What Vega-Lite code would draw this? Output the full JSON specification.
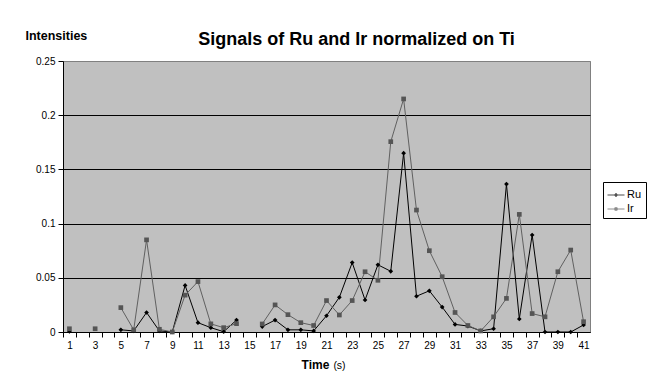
{
  "$schema": "https://vega.github.io/schema/vega-lite/v6.json",
  "width": 527,
  "height": 271,
  "autosize": "none",
  "padding": {"left": 63, "top": 61, "right": 64, "bottom": 54},
  "background": "white",
  "title": {
    "text": "Signals of Ru and Ir normalized on Ti",
    "font": "Liberation Sans",
    "fontSize": 18,
    "fontWeight": "bold",
    "color": "black",
    "anchor": "middle",
    "dx": 30,
    "baseline": "alphabetic",
    "offset": -34
  },
  "config": {
    "view": {"fill": "#C0C0C0", "stroke": "#808080"},
    "font": "Liberation Sans"
  },
  "data": {
    "values": [
      {"t": 1, "series": "Ru", "v": 0.0005}, {"t": 2, "series": "Ru", "v": null}, {"t": 3, "series": "Ru", "v": null}, {"t": 4, "series": "Ru", "v": null},
      {"t": 5, "series": "Ru", "v": 0.002}, {"t": 6, "series": "Ru", "v": 0.001}, {"t": 7, "series": "Ru", "v": 0.018}, {"t": 8, "series": "Ru", "v": 0.001},
      {"t": 9, "series": "Ru", "v": 0.0}, {"t": 10, "series": "Ru", "v": 0.043}, {"t": 11, "series": "Ru", "v": 0.0086}, {"t": 12, "series": "Ru", "v": 0.004},
      {"t": 13, "series": "Ru", "v": 0.0003}, {"t": 14, "series": "Ru", "v": 0.011}, {"t": 15, "series": "Ru", "v": null}, {"t": 16, "series": "Ru", "v": 0.005},
      {"t": 17, "series": "Ru", "v": 0.011}, {"t": 18, "series": "Ru", "v": 0.002}, {"t": 19, "series": "Ru", "v": 0.002}, {"t": 20, "series": "Ru", "v": 0.001},
      {"t": 21, "series": "Ru", "v": 0.015}, {"t": 22, "series": "Ru", "v": 0.032}, {"t": 23, "series": "Ru", "v": 0.064}, {"t": 24, "series": "Ru", "v": 0.0295},
      {"t": 25, "series": "Ru", "v": 0.062}, {"t": 26, "series": "Ru", "v": 0.056}, {"t": 27, "series": "Ru", "v": 0.165}, {"t": 28, "series": "Ru", "v": 0.033},
      {"t": 29, "series": "Ru", "v": 0.038}, {"t": 30, "series": "Ru", "v": 0.023}, {"t": 31, "series": "Ru", "v": 0.007}, {"t": 32, "series": "Ru", "v": 0.0055},
      {"t": 33, "series": "Ru", "v": 0.001}, {"t": 34, "series": "Ru", "v": 0.003}, {"t": 35, "series": "Ru", "v": 0.1365}, {"t": 36, "series": "Ru", "v": 0.012},
      {"t": 37, "series": "Ru", "v": 0.0895}, {"t": 38, "series": "Ru", "v": 0.0}, {"t": 39, "series": "Ru", "v": 0.0}, {"t": 40, "series": "Ru", "v": 0.0},
      {"t": 41, "series": "Ru", "v": 0.0065},
      {"t": 1, "series": "Ir", "v": 0.003}, {"t": 2, "series": "Ir", "v": null}, {"t": 3, "series": "Ir", "v": 0.003}, {"t": 4, "series": "Ir", "v": null},
      {"t": 5, "series": "Ir", "v": 0.0225}, {"t": 6, "series": "Ir", "v": 0.002}, {"t": 7, "series": "Ir", "v": 0.085}, {"t": 8, "series": "Ir", "v": 0.0025},
      {"t": 9, "series": "Ir", "v": 0.0}, {"t": 10, "series": "Ir", "v": 0.034}, {"t": 11, "series": "Ir", "v": 0.0465}, {"t": 12, "series": "Ir", "v": 0.0075},
      {"t": 13, "series": "Ir", "v": 0.004}, {"t": 14, "series": "Ir", "v": 0.0077}, {"t": 15, "series": "Ir", "v": null}, {"t": 16, "series": "Ir", "v": 0.0074},
      {"t": 17, "series": "Ir", "v": 0.025}, {"t": 18, "series": "Ir", "v": 0.016}, {"t": 19, "series": "Ir", "v": 0.0086}, {"t": 20, "series": "Ir", "v": 0.006},
      {"t": 21, "series": "Ir", "v": 0.029}, {"t": 22, "series": "Ir", "v": 0.0157}, {"t": 23, "series": "Ir", "v": 0.029}, {"t": 24, "series": "Ir", "v": 0.0556},
      {"t": 25, "series": "Ir", "v": 0.0477}, {"t": 26, "series": "Ir", "v": 0.1756}, {"t": 27, "series": "Ir", "v": 0.215}, {"t": 28, "series": "Ir", "v": 0.1125},
      {"t": 29, "series": "Ir", "v": 0.075}, {"t": 30, "series": "Ir", "v": 0.051}, {"t": 31, "series": "Ir", "v": 0.018}, {"t": 32, "series": "Ir", "v": 0.006},
      {"t": 33, "series": "Ir", "v": 0.001}, {"t": 34, "series": "Ir", "v": 0.014}, {"t": 35, "series": "Ir", "v": 0.031}, {"t": 36, "series": "Ir", "v": 0.1085},
      {"t": 37, "series": "Ir", "v": 0.017}, {"t": 38, "series": "Ir", "v": 0.014}, {"t": 39, "series": "Ir", "v": 0.0556}, {"t": 40, "series": "Ir", "v": 0.0756},
      {"t": 41, "series": "Ir", "v": 0.0095}
    ]
  },
  "layer": [
    {
      "mark": {"type": "line", "strokeWidth": 1, "invalid": "break-paths-show-domains"},
      "encoding": {
        "x": {
          "field": "t", "type": "quantitative",
          "scale": {"domain": [0.5, 41.5], "nice": false, "zero": false},
          "axis": {
            "values": [1,2,3,4,5,6,7,8,9,10,11,12,13,14,15,16,17,18,19,20,21,22,23,24,25,26,27,28,29,30,31,32,33,34,35,36,37,38,39,40,41],
            "labelExpr": "datum.value % 2 == 1 ? datum.label : ''",
            "tickOffset": -6.43,
            "labelOffset": 6.43,
            "grid": false,
            "domainColor": "black",
            "tickColor": "black",
            "tickSize": 5,
            "labelFontSize": 10,
            "labelColor": "black",
            "labelPadding": 3,
            "title": "Time",
            "titleFontSize": 12,
            "titleFontWeight": "bold",
            "titleColor": "black",
            "titleX": 252,
            "titleY": 36,
            "titleAlign": "center",
            "titleBaseline": "alphabetic"
          }
        },
        "y": {
          "field": "v", "type": "quantitative",
          "scale": {"domain": [0, 0.25], "nice": false},
          "axis": {
            "values": [0, 0.05, 0.1, 0.15, 0.2, 0.25],
            "format": ".2~f",
            "grid": true,
            "gridColor": {"condition": {"test": "datum.value >= 0.25", "value": "#808080"}, "value": "black"},
            "gridWidth": 1,
            "domainColor": "black",
            "tickColor": "black",
            "tickSize": 5,
            "labelFontSize": 10,
            "labelColor": "black",
            "labelPadding": 3,
            "title": "Intensities",
            "titleAngle": 0,
            "titleFontSize": 12.5,
            "titleFontWeight": "bold",
            "titleColor": "black",
            "titleX": -38,
            "titleY": -22,
            "titleAlign": "left",
            "titleBaseline": "alphabetic"
          }
        },
        "color": {
          "field": "series", "type": "nominal",
          "scale": {"domain": ["Ru", "Ir"], "range": ["#000000", "#606060"]},
          "legend": null
        },
        "order": {"field": "t", "type": "quantitative"}
      }
    },
    {
      "mark": {"type": "point", "filled": true, "opacity": 1},
      "encoding": {
        "x": {
          "field": "t", "type": "quantitative",
          "axis": {
            "orient": "bottom",
            "labels": false, "ticks": false, "domain": false, "grid": false,
            "title": "(s)",
            "titleFontSize": 10.5,
            "titleFontWeight": "normal",
            "titleColor": "black",
            "titleX": 276,
            "titleY": 36,
            "titleAlign": "center",
            "titleBaseline": "alphabetic"
          }
        },
        "y": {"field": "v", "type": "quantitative", "axis": null},
        "color": {
          "field": "series", "type": "nominal",
          "scale": {"domain": ["Ru", "Ir"], "range": ["#000000", "#555555"]},
          "legend": null
        },
        "shape": {
          "field": "series", "type": "nominal",
          "scale": {"domain": ["Ru", "Ir"], "range": ["diamond", "square"]},
          "legend": null
        },
        "size": {"value": 22}
      }
    },
    {
      "transform": [{"filter": "false"}],
      "mark": {"type": "point", "filled": false, "strokeWidth": 1},
      "encoding": {
        "x": {"field": "t", "type": "quantitative", "axis": null},
        "y": {"field": "v", "type": "quantitative", "axis": null},
        "stroke": {
          "field": "series", "type": "nominal",
          "scale": {"domain": ["Ru", "Ir"], "range": ["#000000", "#606060"]},
          "legend": null
        },
        "fill": {
          "field": "series", "type": "nominal",
          "scale": {"domain": ["Ru", "Ir"], "range": ["#000000", "#555555"]},
          "legend": null
        },
        "shape": {
          "field": "series", "type": "nominal",
          "scale": {
            "domain": ["Ru", "Ir"],
            "range": [
              "M-1,0L-0.17,0M0.17,0L1,0M0,-0.2L0.17,0L0,0.2L-0.17,0Z",
              "M-1,0L-0.14,0M0.14,0L1,0M-0.14,-0.14L0.14,-0.14L0.14,0.14L-0.14,0.14Z"
            ]
          },
          "legend": {
            "title": null,
            "orient": "none",
            "legendX": 540,
            "legendY": 121,
            "strokeColor": "black",
            "fillColor": "white",
            "padding": 4,
            "symbolSize": 289,
            "symbolStrokeWidth": 1,
            "symbolFillColor": "black",
            "symbolStrokeColor": "black",
            "labelFontSize": 11,
            "labelColor": "black",
            "labelOffset": 2,
            "rowPadding": 0
          }
        }
      }
    }
  ],
  "resolve": {
    "scale": {"shape": "independent", "color": "independent", "fill": "independent", "stroke": "independent"},
    "axis": {"x": "independent", "y": "independent"}
  }
}
